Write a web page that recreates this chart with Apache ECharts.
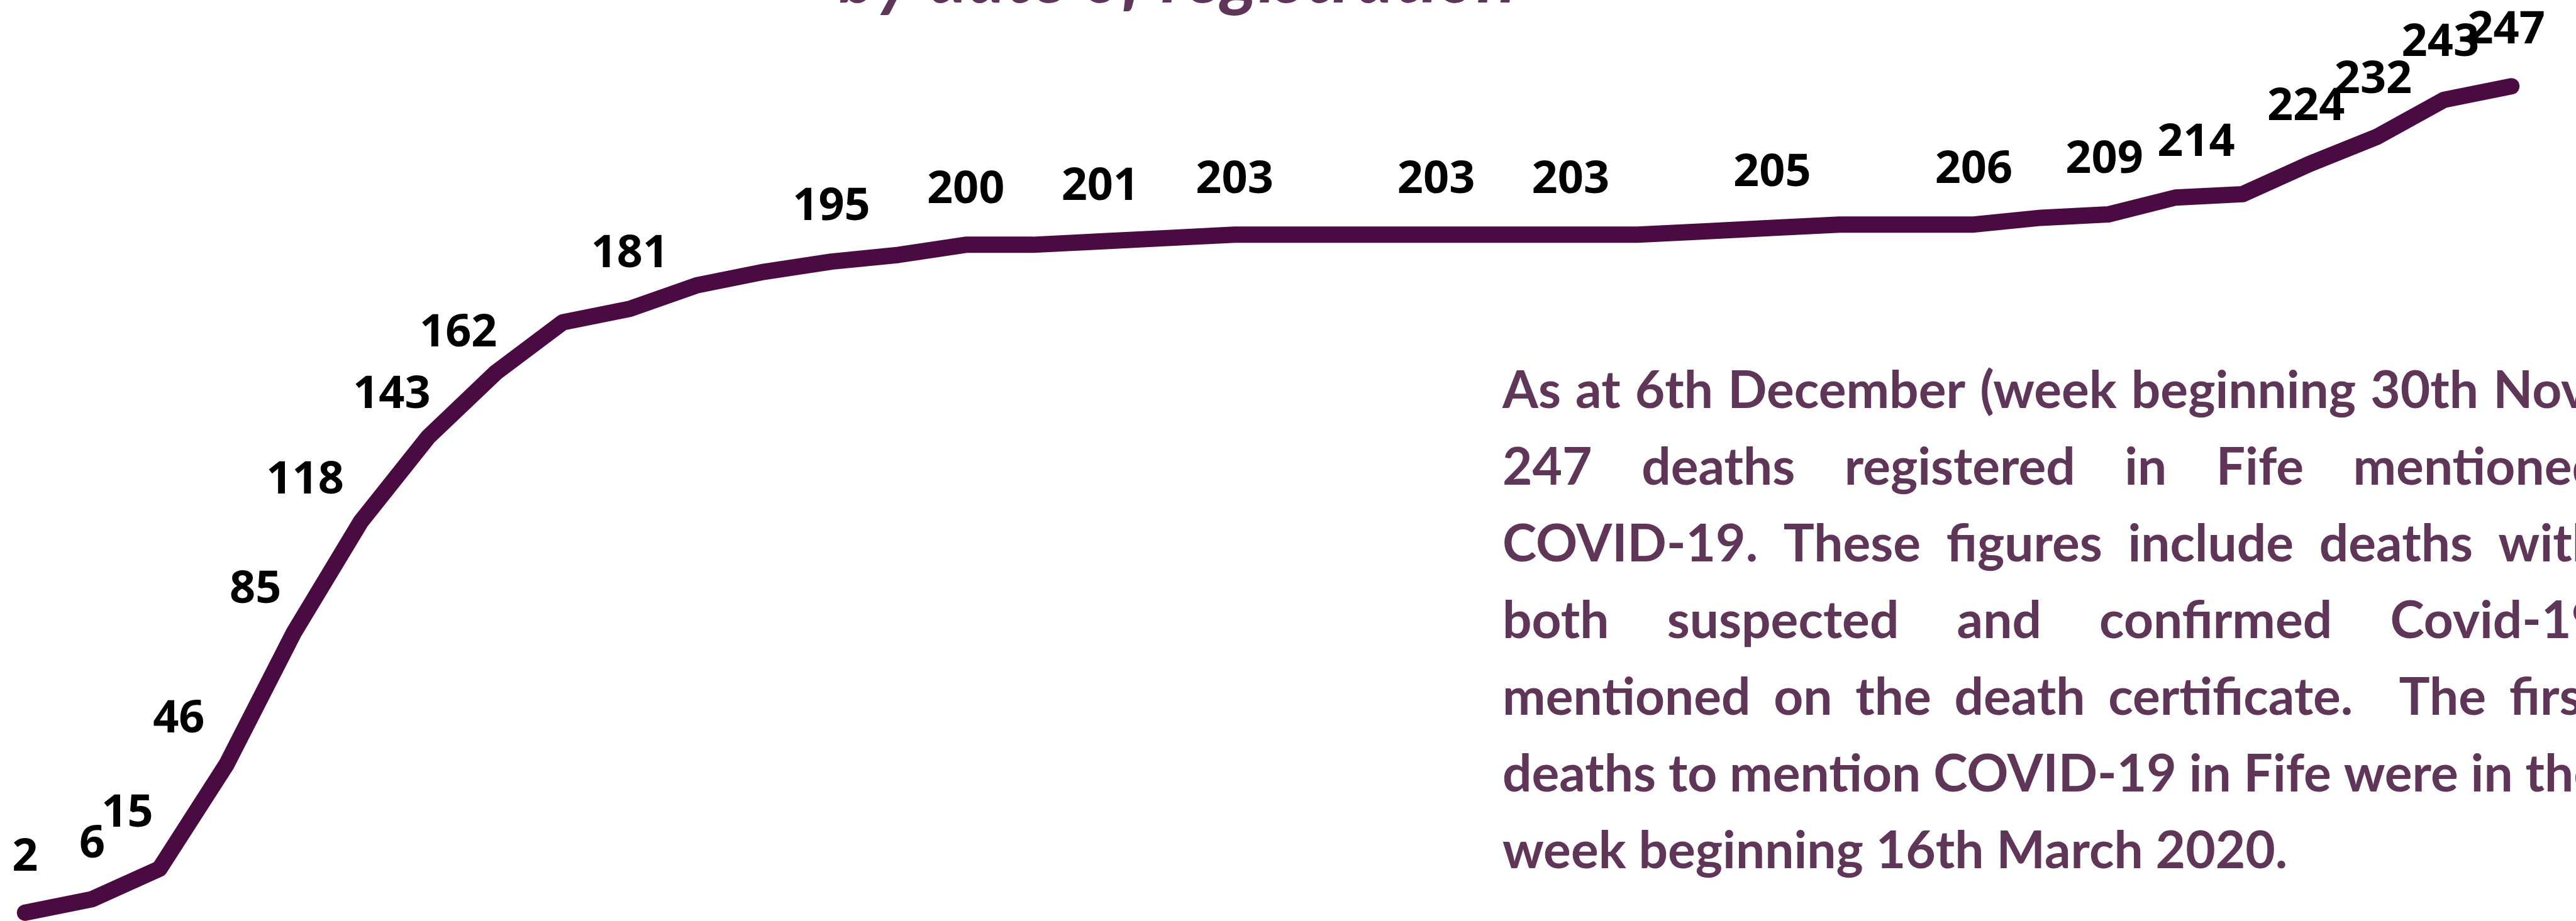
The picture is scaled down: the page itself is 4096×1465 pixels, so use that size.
<!DOCTYPE html>
<html>
<head>
<meta charset="utf-8">
<script src="https://cdn.jsdelivr.net/npm/echarts@6/dist/echarts.min.js"></script>
<style>
html,body{margin:0;padding:0;background:#ffffff;overflow:hidden}
#c{width:4096px;height:1465px}
</style>
</head>
<body>
<div id="c"></div>
<script>
// ---- data (week beginning, 2020) ----
const weekStarts = ['16 Mar','23 Mar','30 Mar','06 Apr','13 Apr','20 Apr','27 Apr','04 May','11 May','18 May',
  '25 May','01 Jun','08 Jun','15 Jun','22 Jun','29 Jun','06 Jul','13 Jul','20 Jul','27 Jul',
  '03 Aug','10 Aug','17 Aug','24 Aug','31 Aug','07 Sep','14 Sep','21 Sep','28 Sep','05 Oct',
  '12 Oct','19 Oct','26 Oct','02 Nov','09 Nov','16 Nov','23 Nov','30 Nov'];
const cumulativeDeaths = [2,6,15,46,85,118,143,162,177,181,
  188,192,195,197,200,200,201,202,203,203,
  203,203,203,203,203,204,205,206,206,206,
  208,209,214,215,224,232,243,247];
const labelledWeeks = [0,1,2,3,4,5,6,7,9,12,14,16,18,21,23,26,29,31,32,34,35,36,37];

const titleText = 'by date of registration';
const bodyLines = [
  'As at 6th December (week beginning 30th Nov)',
  '247 deaths registered in Fife mentioned',
  'COVID-19. These figures include deaths with',
  'both suspected and confirmed Covid-19',
  'mentioned on the death certificate.  The first',
  'deaths to mention COVID-19 in Fife were in the',
  'week beginning 16th March 2020.'
];

// ---- styling / layout ----
const lineColor = '#4a0b43';
const textColor = '#5f3558';
const labelNudge = {2:[-51,0],3:[-76,16],4:[-61,19],5:[-89,22],6:[-58,20],7:[-59,24],
  31:[-6,0],32:[33,0],34:[-6,-3],35:[-6,-3],36:[-6,-3],37:[-8,-2]};

const seriesData = cumulativeDeaths.map((v, i) => ({
  value: v,
  label: { show: labelledWeeks.indexOf(i) >= 0, offset: labelNudge[i] || [0, 0] }
}));

// body text, justified
const bodyFontSize = 82;
const bodyFont = 'bold ' + bodyFontSize + 'px Lato';
const boxLeft = 2389, boxW = 1747;
const baseline0 = 654, lineStep = 122;
const ctx = document.createElement('canvas').getContext('2d');
ctx.font = bodyFont;
const spaceW = ctx.measureText(' ').width;
const graphics = [];
bodyLines.forEach((line, li) => {
  const words = line.split(' ');
  const widths = words.map(w => w ? ctx.measureText(w).width : 0);
  const total = widths.reduce((a, b) => a + b, 0);
  const justify = li < bodyLines.length - 1;
  const gap = justify ? (boxW - total) / (words.length - 1) : spaceW;
  let x = boxLeft;
  const yMid = baseline0 + li * lineStep - 0.387 * bodyFontSize;
  words.forEach((w, wi) => {
    if (w) {
      graphics.push({
        type: 'text', silent: true,
        style: { text: w, x: x, y: yMid, font: bodyFont, fill: textColor, align: 'left', verticalAlign: 'middle' }
      });
    }
    x += widths[wi] + gap;
  });
});
const titleSize = 116;
graphics.push({
  type: 'text', silent: true,
  style: { text: titleText, x: 1872, y: 11 - 0.387 * titleSize, font: 'italic bold ' + titleSize + 'px Lato', fill: textColor, align: 'center', verticalAlign: 'middle' }
});

const chart = echarts.init(document.getElementById('c'), null, { renderer: 'canvas' });
chart.setOption({
  backgroundColor: '#ffffff',
  animation: false,
  grid: { left: 39.8, right: 102.8, top: 121.1, bottom: 2.6 },
  xAxis: { type: 'category', data: weekStarts, boundaryGap: false, show: false },
  yAxis: { type: 'value', min: 0, max: 250, show: false, splitLine: { show: false } },
  series: [{
    type: 'line',
    data: seriesData,
    clip: false,
    showSymbol: true,
    showAllSymbol: true,
    symbol: 'circle',
    symbolSize: 2,
    itemStyle: { color: lineColor },
    lineStyle: { color: lineColor, width: 26, cap: 'round', join: 'round' },
    label: {
      position: 'top',
      distance: 50,
      color: '#000000',
      fontFamily: 'Open Sans',
      fontWeight: 'bold',
      fontSize: 72
    },
    emphasis: { disabled: true }
  }],
  graphic: graphics
});
</script>
</body>
</html>
